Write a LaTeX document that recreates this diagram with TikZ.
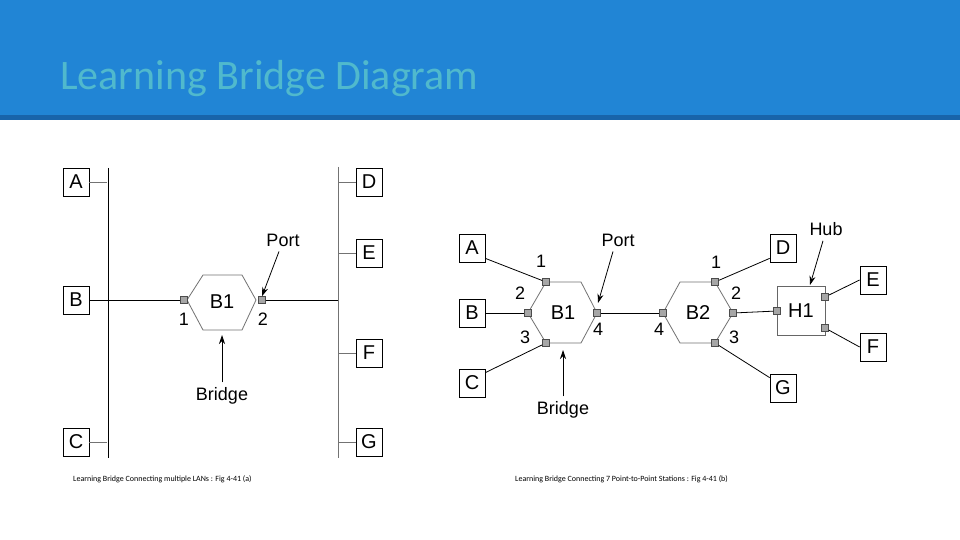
\documentclass[tikz,border=0pt]{standalone}
\usepackage{fontspec}
\setmainfont{Liberation Sans}
\newfontfamily\calib{Carlito}
\usetikzlibrary{arrows.meta}
\begin{document}
\begin{tikzpicture}[x=1pt,y=-1pt,
  box/.style={draw,line width=0.8pt,minimum width=26pt,minimum height=28pt,inner sep=0pt,font=\fontsize{20}{20}\selectfont},
  port/.style={draw=black!70,fill=black!35,line width=0.5pt,minimum size=7pt,inner sep=0pt},
  lbl/.style={font=\fontsize{18}{18}\selectfont,inner sep=0pt},
  ln/.style={line width=0.8pt},
  gln/.style={line width=0.8pt,draw=black!55},
  arr/.style={line width=0.8pt,-{Stealth[length=9pt,width=6pt]}}]
\useasboundingbox (0,0) rectangle (960,540);
\fill[white] (0,0) rectangle (960,540);
\fill[fill={rgb,255:red,33;green,133;blue,213}] (0,0) rectangle (960,115);
\fill[fill={rgb,255:red,24;green,100;blue,170}] (0,115) rectangle (960,120);
\node[anchor=base west,inner sep=0pt,text={rgb,255:red,80;green,185;blue,205},font=\calib\fontsize{42}{42}\selectfont] (title) at (60,90) {Learning Bridge Diagram};
% ---- left diagram
\coordinate (lt) at (108,168); \coordinate (lb) at (108,458);
\coordinate (rt) at (338,167); \coordinate (rb) at (338,458);
\draw[ln] (lt) -- (lb);
\draw[gln] (rt) -- (rb);
\node[box] (lA) at (76,182) {A};
\node[box] (lB) at (76,300) {B};
\node[box] (lC) at (76,442) {C};
\node[box] (lD) at (369,182) {D};
\node[box] (lE) at (369,253) {E};
\node[box] (lF) at (369,353) {F};
\node[box] (lG) at (369,442) {G};
\draw[gln] (lA.east) -- ++(18,0);
\draw[gln] (lC.east) -- ++(18,0);
\draw[gln] (lD.west) -- ++(-18,0);
\draw[gln] (lE.west) -- ++(-18,0);
\draw[gln] (lF.west) -- ++(-18,0);
\draw[gln] (lG.west) -- ++(-18,0);
\draw[gln] (187,300) -- (203,275) -- (242,275) -- (256,300) -- (242,330) -- (203,330) -- cycle;
\node[lbl,font=\fontsize{20}{20}\selectfont] (lB1) at (222,302) {B1};
\node[port] (lp1) at (184,300) {};
\node[port] (lp2) at (262,300) {};
\draw[ln] (lB.east) -- (lp1);
\draw[ln] (lp2) -- (338,300);
\node[lbl] (l1) at (184,319) {1};
\node[lbl] (l2) at (263,319) {2};
\node[lbl] (lport) at (283,240) {Port};
\draw[arr] (lport.south) ++(-4,5) -- (lp2.north);
\node[lbl] (lbridge) at (222,396) {Bridge};
\draw[arr] (lbridge.north) ++(0,-5) -- (222,335);
% ---- right diagram
\draw[gln] (528,313) -- (546,282) -- (581,282) -- (597,313) -- (581,343) -- (546,343) -- cycle;
\draw[gln] (663,313) -- (680,282) -- (715,282) -- (733,313) -- (715,343) -- (680,343) -- cycle;
\node[draw=black!60,line width=0.8pt,minimum width=48pt,minimum height=49pt,inner sep=0pt,font=\fontsize{20}{20}\selectfont] (H1) at (801,311) {H1};
\node[lbl,font=\fontsize{20}{20}\selectfont] (rB1) at (563,313) {B1};
\node[lbl,font=\fontsize{20}{20}\selectfont] (rB2) at (698,313) {B2};
\node[box] (rA) at (472,248) {A};
\node[box] (rB) at (472,313) {B};
\node[box] (rC) at (472,383) {C};
\node[box] (rD) at (783,248) {D};
\node[box] (rG) at (783,388) {G};
\node[box] (rE) at (873,280) {E};
\node[box] (rF) at (873,347) {F};
\node[port] (p11) at (546,282) {};
\node[port] (p12) at (528,313) {};
\node[port] (p13) at (546,343) {};
\node[port] (p14) at (597,313) {};
\node[port] (p21) at (715,282) {};
\node[port] (p22) at (733,313) {};
\node[port] (p23) at (715,343) {};
\node[port] (p24) at (663,313) {};
\node[port] (h0) at (777,311) {};
\node[port] (h1) at (825,297) {};
\node[port] (h2) at (825,328) {};
\draw[ln] (rA.south east) ++(0,-4) -- (p11);
\draw[ln] (rB.east) -- (p12);
\draw[ln] (rC.north east) ++(0,4) -- (p13);
\draw[ln] (p14) -- (p24);
\draw[ln] (rD.south west) ++(0,-4) -- (p21);
\draw[ln] (rG.north west) ++(0,4) -- (p23);
\draw[ln] (p22) -- (h0);
\draw[ln] (h1) -- (rE.west);
\draw[ln] (h2) -- (rF.west);
\node[lbl] (n11) at (541,261) {1};
\node[lbl] (n12) at (520,293) {2};
\node[lbl] (n13) at (525,337) {3};
\node[lbl] (n14) at (598,329) {4};
\node[lbl] (n21) at (716,262) {1};
\node[lbl] (n22) at (736,293) {2};
\node[lbl] (n23) at (734,337) {3};
\node[lbl] (n24) at (659,329) {4};
\node[lbl] (rport) at (618,240) {Port};
\draw[arr] (rport.south) ++(-5,5) -- (598,303);
\node[lbl] (rbridge) at (563,410) {Bridge};
\draw[arr] (rbridge.north) ++(0,-5) -- (563,350);
\node[lbl] (hub) at (826,229) {Hub};
\draw[arr] (hub.south) ++(-3,5) -- (810,285);
% captions
\node[anchor=west,inner sep=0pt,font=\calib\fontsize{8}{8}\selectfont] (cap1) at (73,479) {Learning Bridge Connecting multiple LANs : Fig 4-41 (a)};
\node[anchor=west,inner sep=0pt,font=\calib\fontsize{8}{8}\selectfont] (cap2) at (515,479) {Learning Bridge Connecting 7 Point-to-Point Stations : Fig 4-41 (b)};
\end{tikzpicture}
\end{document}
